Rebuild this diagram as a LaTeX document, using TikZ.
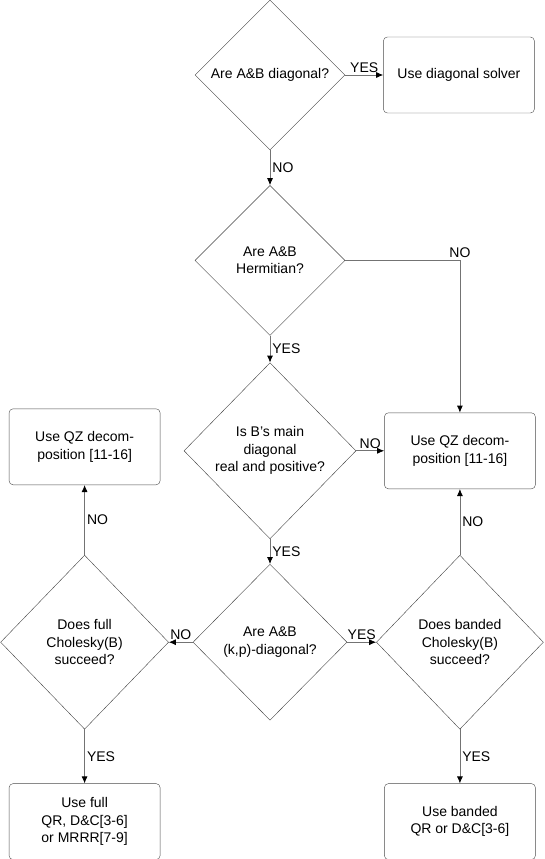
\documentclass[tikz,border=0pt]{standalone}
\usepackage{fontspec}
\setmainfont{Liberation Sans}
\usetikzlibrary{arrows.meta, positioning, shapes.geometric}

\begin{document}
\begin{tikzpicture}[
    x=1pt, y=-1pt,
    node distance=30pt,
    every node/.style={font=\fontsize{14}{17.5}\selectfont, inner sep=2pt},
    box/.style={rectangle, draw=black!70, rounded corners=4pt, minimum width=151pt, minimum height=76pt, align=center},
    decision/.style={diamond, draw=black!75, aspect=1, inner sep=0pt, align=center},
    arrow/.style={-{Latex[length=7pt, width=6pt, black]}, draw=black!55, line width=0.8pt}
]
\useasboundingbox (0,0) rectangle (544,859);

\node[decision, minimum width=150pt, minimum height=150pt] (diag) at (270,75) {Are A\&B diagonal?};
\node[box, right=38pt of diag] (diagbox) {Use diagonal solver};
\node[decision, minimum width=150pt, minimum height=150pt, below=35pt of diag] (herm) {Are A\&B\\Hermitian?};
\node[decision, minimum width=172pt, minimum height=176pt, below=27pt of herm] (real) {Is B's main\\diagonal\\real and positive?};
\node[box, right=28pt of real] (qzright) {Use QZ decom-\\position [11-16]};
\node[decision, minimum width=154pt, minimum height=156pt, below=25pt of real] (kp) {Are A\&B\\(k,p)-diagonal?};
\node[decision, minimum width=168pt, minimum height=174pt, left=24pt of kp] (fullchol) {Does full\\Cholesky(B)\\succeed?};
\node[decision, minimum width=167pt, minimum height=174pt, right=29pt of kp] (bandchol) {Does banded\\Cholesky(B)\\succeed?};
\node[box, above=70pt of fullchol] (qzleft) {Use QZ decom-\\position [11-16]};
\node[box, below=54pt of fullchol] (fullsolve) {Use full\\QR, D\&C[3-6]\\or MRRR[7-9]};
\node[box, below=54pt of bandchol] (bandsolve) {Use banded\\QR or D\&C[3-6]};

\draw[arrow] (diag) -- node[above]{YES} (diagbox);
\draw[arrow] (diag) -- node[right]{NO} (herm);
\draw[arrow] (herm.east) -| node[pos=0.5, above]{NO} (qzright.north);
\draw[arrow] (herm) -- node[right]{YES} (real);
\draw[arrow] (real) -- node[above]{NO} (qzright);
\draw[arrow] (real) -- node[right]{YES} (kp);
\draw[arrow] (kp) -- node[above]{NO} (fullchol);
\draw[arrow] (kp) -- node[above]{YES} (bandchol);
\draw[arrow] (fullchol) -- node[right]{NO} (qzleft);
\draw[arrow] (bandchol) -- node[right]{NO} (qzright);
\draw[arrow] (fullchol) -- node[right]{YES} (fullsolve);
\draw[arrow] (bandchol) -- node[right]{YES} (bandsolve);

\end{tikzpicture}
\end{document}
